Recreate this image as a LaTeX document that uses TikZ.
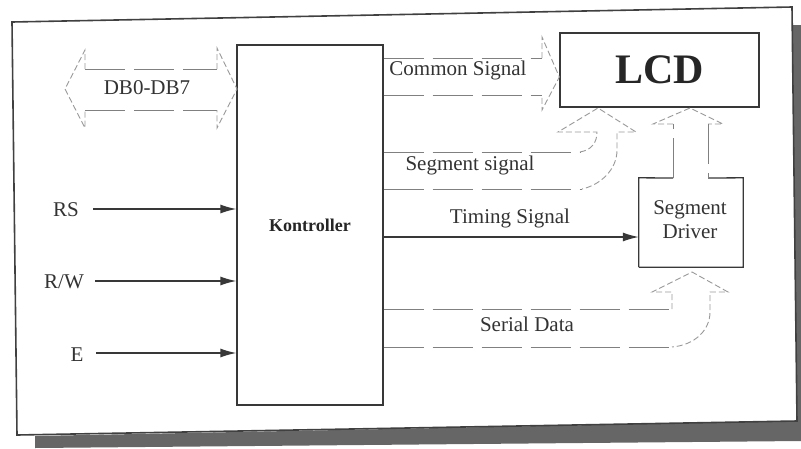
\documentclass[tikz,border=0pt]{standalone}
\usepackage{fontspec}
\setmainfont{Liberation Serif}
\usetikzlibrary{arrows.meta}
\begin{document}
\begin{tikzpicture}[x=1pt,y=-1pt,
  frameline/.style={draw=black!75,line width=1.6pt},
  boxline/.style={draw=black!78,line width=1.3pt},
  wide/.style={draw=black!50,line width=1pt,dash pattern=on 40pt off 9pt},
  widehead/.style={draw=black!40,line width=0.9pt,dash pattern=on 6pt off 3pt},
  sig/.style={draw=black!78,line width=1.3pt,-{Latex[length=16pt,width=9pt]}},
  lbl/.style={font=\fontsize{21}{24}\selectfont,text=black!80,inner sep=0pt}]
\useasboundingbox (0,0) rectangle (801,448);
% outer frame with shadow
\fill[black!60] (792,25) -- (801,25) -- (801,441) -- (35,448) -- (35,436) -- (797,421) -- cycle;
\draw[frameline,fill=white] (12,22) -- (792,7) -- (797,421) -- (17,435) -- cycle;

% boxes
\node[boxline,minimum width=146pt,minimum height=360pt,inner sep=0pt] (ctrl) at (310,225) {};
\node[font=\fontsize{18}{20}\selectfont\bfseries,text=black!85] (ctrltxt) at (ctrl.center) {Kontroller};
\node[boxline,minimum width=199pt,minimum height=74pt,inner sep=0pt,
      font=\fontsize{42}{46}\selectfont\bfseries,text=black!85] (lcd) at (659.5,70) {LCD};
\node[minimum width=104pt,minimum height=89pt,inner sep=0pt] (drv) at (691,222.5) {};
\node[lbl,align=center] (drvtxt) at (690,220) {Segment\\Driver};

% segment driver outline merged with its up-arrow to the LCD
\draw[boxline] (drv.south west) -- (drv.north west) -- (673,178);
\draw[boxline] (708,178) -- (drv.north east) -- (drv.south east) -- (drv.south west);
\draw[wide] (673,178) -- (673,124);
\draw[widehead] (673,124) -- (653,124) -- (690,108) -- (723,124) -- (708,124);
\draw[wide] (708,124) -- (708,178);

% DB0-DB7 double wide arrow
\draw[wide] (85,69) -- (217,69);
\draw[wide] (85,110) -- (217,110);
\draw[widehead] (85,69) -- (85,50) -- (65,89) -- (85,128) -- (85,110);
\draw[widehead] (217,69) -- (217,48) -- (237,89) -- (217,128) -- (217,110);
\node[lbl] (db) at (147,88) {DB0-DB7};

% Common Signal
\draw[wide] (ctrl.east |- 0,58) -- (542,58);
\draw[wide] (ctrl.east |- 0,95) -- (542,95);
\draw[widehead] (542,58) -- (542,37) -- (lcd.west |- 0,77) -- (542,110) -- (542,95);
\node[lbl] (cs) at (458,70) {Common Signal};

% Segment signal
\draw[wide] (ctrl.east |- 0,152) -- (580,152);
\draw[wide] (ctrl.east |- 0,189) -- (582,189);
\draw[widehead] (580,152) .. controls (592,150) and (597,142) .. (597,132)
  -- (558,132) -- (598,108) -- (636,132) -- (617,132) -- (617,150)
  .. controls (617,170) and (600,185) .. (582,189);
\node[lbl] (ss) at (470,165) {Segment signal};

% Timing Signal
\draw[sig] (ctrl.east |- 0,237) -- (drv.west |- 0,237);
\node[lbl] (ts) at (510,218) {Timing Signal};

% Serial Data
\draw[wide] (ctrl.east |- 0,309) -- (672,309);
\draw[wide] (ctrl.east |- 0,347) -- (672,347);
\draw[widehead] (672,309) -- (672,292) -- (652,292) -- (692,272) -- (728,292) -- (710,292)
  -- (710,312) .. controls (710,330) and (695,345) .. (672,347);
\node[lbl] (sd) at (527,324) {Serial Data};

% control inputs
\node[lbl] (rs) at (66,210) {RS};
\node[lbl] (rw) at (64,282) {R/W};
\node[lbl] (e) at (77,355) {E};
\draw[sig] (93,209) -- (ctrl.west |- 0,209);
\draw[sig] (95,281) -- (ctrl.west |- 0,281);
\draw[sig] (96,353) -- (ctrl.west |- 0,353);
\end{tikzpicture}
\end{document}
